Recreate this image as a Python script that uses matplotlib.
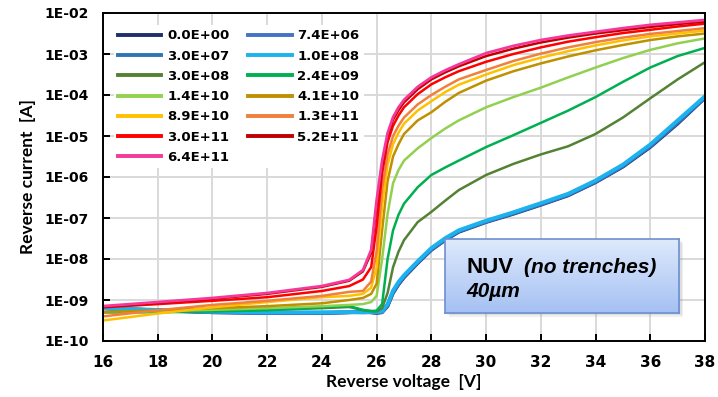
import matplotlib
matplotlib.use("Agg")
import matplotlib.pyplot as plt
import numpy as np
from matplotlib.ticker import FixedLocator, FixedFormatter, NullLocator
from matplotlib.colors import LinearSegmentedColormap
from matplotlib.patches import Rectangle

# Reverse voltage grid [V]
voltage = [16, 18, 20, 22, 24, 25, 25.5, 25.8, 26.0, 26.2, 26.4, 26.6, 26.8, 27, 27.5, 28, 28.5,
           29, 30, 31, 32, 33, 34, 35, 36, 37, 38]

# Reverse current [A] per fluence
i_0p0e00 = [6.31e-10, 5.62e-10, 5.01e-10, 4.79e-10, 4.79e-10, 5.01e-10, 5.25e-10, 5.01e-10, 4.79e-10, 5.01e-10,
            7.08e-10, 1.48e-9, 2.4e-9, 3.55e-9, 7.94e-9, 1.66e-8, 2.88e-8, 4.57e-8, 7.94e-8, 1.26e-7, 2.09e-7, 3.55e-7,
            7.41e-7, 1.78e-6, 5.37e-6, 2.0e-5, 8.51e-5]
i_7p4e06 = [6.2e-10, 5.5e-10, 5.0e-10, 4.8e-10, 4.8e-10, 5.0e-10, 5.1e-10, 5.0e-10, 4.9e-10, 5.1e-10,
            7.4e-10, 1.55e-9, 2.5e-9, 3.7e-9, 8.2e-9, 1.7e-8, 2.95e-8, 4.7e-8, 8.1e-8, 1.3e-7, 2.15e-7, 3.65e-7,
            7.6e-7, 1.85e-6, 5.6e-6, 2.1e-5, 8.7e-5]
i_3p0e07 = [6.3e-10, 5.6e-10, 5.1e-10, 4.9e-10, 4.9e-10, 5.0e-10, 5.0e-10, 5.0e-10, 5.0e-10, 5.2e-10,
            7.6e-10, 1.6e-9, 2.6e-9, 3.8e-9, 8.4e-9, 1.75e-8, 3.05e-8, 4.8e-8, 8.3e-8, 1.32e-7, 2.2e-7, 3.75e-7,
            7.8e-7, 1.9e-6, 5.8e-6, 2.2e-5, 8.9e-5]
i_1p0e08 = [6.4e-10, 5.7e-10, 5.2e-10, 5.0e-10, 5.0e-10, 5.1e-10, 5.0e-10, 5.1e-10, 5.1e-10, 5.3e-10,
            7.9e-10, 1.7e-9, 2.75e-9, 4.0e-9, 8.8e-9, 1.85e-8, 3.2e-8, 5.0e-8, 8.6e-8, 1.38e-7, 2.3e-7, 3.9e-7,
            8.2e-7, 2.0e-6, 6.2e-6, 2.4e-5, 9.3e-5]
i_3p0e08 = [5.01e-10, 5.25e-10, 5.5e-10, 5.75e-10, 6.31e-10, 6.76e-10, 5.62e-10, 5.37e-10, 5.25e-10, 6.31e-10,
            1.48e-9, 6.31e-9, 1.51e-8, 2.88e-8, 7.94e-8, 1.41e-7, 2.63e-7, 4.79e-7, 1.12e-6, 2.09e-6, 3.55e-6, 5.62e-6,
            1.12e-5, 2.82e-5, 8.32e-5, 2.4e-4, 6.31e-4]
i_2p4e09 = [5.01e-10, 5.01e-10, 5.25e-10, 5.62e-10, 6.61e-10, 7.08e-10, 5.75e-10, 5.37e-10, 5.5e-10, 7.94e-10,
            1.0e-8, 5.01e-8, 1.2e-7, 2.24e-7, 5.62e-7, 1.12e-6, 1.7e-6, 2.51e-6, 5.37e-6, 1.05e-5, 2.09e-5, 4.17e-5,
            8.91e-5, 2.09e-4, 4.68e-4, 8.91e-4, 1.41e-3]
i_1p4e10 = [5.01e-10, 5.37e-10, 5.75e-10, 6.31e-10, 7.08e-10, 7.59e-10, 7.94e-10, 8.91e-10, 1.26e-9, 1.0e-8,
            1.26e-7, 7.08e-7, 1.48e-6, 2.51e-6, 5.01e-6, 8.91e-6, 1.51e-5, 2.4e-5, 5.01e-5, 8.91e-5, 1.51e-4, 2.69e-4,
            4.68e-4, 7.94e-4, 1.26e-3, 1.82e-3, 2.4e-3]
i_4p1e10 = [5.01e-10, 5.62e-10, 6.31e-10, 7.08e-10, 8.32e-10, 1.0e-9, 1.12e-9, 1.41e-9, 2.51e-9, 5.01e-8,
            7.94e-7, 3.16e-6, 6.31e-6, 1.12e-5, 2.4e-5, 3.8e-5, 6.76e-5, 1.12e-4, 2.24e-4, 3.8e-4, 5.89e-4, 8.71e-4,
            1.23e-3, 1.66e-3, 2.19e-3, 2.69e-3, 3.16e-3]
i_8p9e10 = [3.16e-10, 4.68e-10, 6.61e-10, 8.91e-10, 1.17e-9, 1.26e-9, 1.41e-9, 2.0e-9, 6.31e-9, 2.0e-7,
            2.0e-6, 6.31e-6, 1.2e-5, 2.0e-5, 4.17e-5, 7.08e-5, 1.17e-4, 1.78e-4, 3.16e-4, 5.37e-4, 8.13e-4, 1.17e-3,
            1.62e-3, 2.14e-3, 2.69e-3, 3.16e-3, 3.72e-3]
i_1p3e11 = [3.98e-10, 5.62e-10, 7.59e-10, 9.55e-10, 1.26e-9, 1.58e-9, 1.66e-9, 2.82e-9, 1.58e-8, 5.01e-7,
            3.55e-6, 1.0e-5, 1.78e-5, 2.82e-5, 5.89e-5, 1.0e-4, 1.58e-4, 2.4e-4, 4.07e-4, 6.76e-4, 1.02e-3, 1.45e-3,
            1.95e-3, 2.51e-3, 3.09e-3, 3.63e-3, 4.27e-3]
i_3p0e11 = [6.61e-10, 7.94e-10, 9.55e-10, 1.17e-9, 1.66e-9, 2.19e-9, 3.16e-9, 6.31e-9, 6.31e-8, 1.26e-6,
            7.08e-6, 1.78e-5, 3.16e-5, 5.01e-5, 1.05e-4, 1.82e-4, 2.69e-4, 3.8e-4, 6.46e-4, 1.0e-3, 1.45e-3, 2.0e-3,
            2.57e-3, 3.24e-3, 3.89e-3, 4.68e-3, 5.5e-3]
i_5p2e11 = [6.76e-10, 8.51e-10, 1.07e-9, 1.41e-9, 2.09e-9, 2.95e-9, 5.0e-9, 1.41e-8, 2.0e-7, 2.0e-6,
            1.0e-5, 2.51e-5, 4.27e-5, 6.61e-5, 1.38e-4, 2.4e-4, 3.55e-4, 5.0e-4, 8.91e-4, 1.35e-3, 1.91e-3, 2.51e-3,
            3.16e-3, 3.8e-3, 4.57e-3, 5.37e-3, 6.17e-3]
i_6p4e11 = [7.1e-10, 8.9e-10, 1.12e-9, 1.48e-9, 2.19e-9, 3.09e-9, 5.37e-9, 1.66e-8, 2.75e-7, 2.5e-6,
            1.17e-5, 2.88e-5, 5.0e-5, 7.6e-5, 1.58e-4, 2.69e-4, 3.98e-4, 5.6e-4, 1.05e-3, 1.58e-3, 2.19e-3, 2.82e-3,
            3.47e-3, 4.27e-3, 5.13e-3, 5.89e-3, 6.76e-3]

labels = ["0.0E+00", "7.4E+06", "3.0E+07", "1.0E+08", "3.0E+08", "2.4E+09", "1.4E+10",
          "4.1E+10", "8.9E+10", "1.3E+11", "3.0E+11", "5.2E+11", "6.4E+11"]
series = [i_0p0e00, i_7p4e06, i_3p0e07, i_1p0e08, i_3p0e08, i_2p4e09, i_1p4e10,
          i_4p1e10, i_8p9e10, i_1p3e11, i_3p0e11, i_5p2e11, i_6p4e11]
colors = ["#1f2f6e", "#4472c4", "#2e75b6", "#1cb2ef", "#548235", "#00b050", "#92d050",
          "#bf9000", "#ffc000", "#f0803c", "#ff0000", "#c00000", "#f4399a"]
widths = [2.6, 2.6, 2.6, 2.8, 1.8, 1.8, 1.8, 1.8, 1.8, 1.8, 1.8, 1.8, 2.0]

x_ticks = [16, 18, 20, 22, 24, 26, 28, 30, 32, 34, 36, 38]
y_ticks = [1e-10, 1e-9, 1e-8, 1e-7, 1e-6, 1e-5, 1e-4, 1e-3, 1e-2]
y_tick_labels = ["1E-10", "1E-09", "1E-08", "1E-07", "1E-06", "1E-05", "1E-04", "1E-03", "1E-02"]

fig = plt.figure(figsize=(7.18, 3.97), dpi=100)
ax = fig.add_axes([103/718, 1 - 341/397, 602/718, 328/397])

handles = {}
for lab, ys, c, w in zip(labels, series, colors, widths):
    h, = ax.plot(voltage, ys, color=c, lw=w, label=lab, solid_joinstyle="round")
    handles[lab] = h

ax.set_yscale("log")
ax.set_xlim(16, 38)
ax.set_ylim(1e-10, 1e-2)
ax.xaxis.set_major_locator(FixedLocator(x_ticks))
ax.set_xticklabels([str(t) for t in x_ticks])
ax.yaxis.set_major_locator(FixedLocator(y_ticks))
ax.yaxis.set_major_formatter(FixedFormatter(y_tick_labels))
ax.yaxis.set_minor_locator(NullLocator())
ax.grid(True, which="major", color="#d9d9d9", lw=1.4)
ax.set_axisbelow(True)
for s in ax.spines.values():
    s.set_linewidth(1.4)
    s.set_color("black")
ax.tick_params(axis="both", direction="in", length=5, width=1.4)
ax.tick_params(axis="x", pad=10, labelsize=11)
ax.tick_params(axis="y", pad=10, labelsize=10)
for t in ax.get_xticklabels() + ax.get_yticklabels():
    t.set_fontweight("bold")

ax.set_xlabel("Reverse voltage  [V]", fontsize=12.5, family="Lato", fontweight="bold", labelpad=3)
ax.set_ylabel("Reverse current  [A]", fontsize=12.5, family="Lato", fontweight="bold", labelpad=6)

col1 = ["0.0E+00", "3.0E+07", "3.0E+08", "1.4E+10", "8.9E+10", "3.0E+11", "6.4E+11"]
col2 = ["7.4E+06", "1.0E+08", "2.4E+09", "4.1E+10", "1.3E+11", "5.2E+11"]
order = col1 + col2
leg = ax.legend([handles[l] for l in order], order, ncol=2, loc="upper left",
                bbox_to_anchor=(0.018, 0.962), borderaxespad=0, frameon=True,
                prop={"weight": "bold", "size": 9.5}, handlelength=3.3, handletextpad=0.45,
                columnspacing=1.4, labelspacing=0.55, borderpad=0.3)
leg.get_frame().set_edgecolor("none")
leg.get_frame().set_facecolor("white")
leg.get_frame().set_alpha(1)
for line in leg.get_lines():
    line.set_linewidth(2.8)

# annotation box with gradient and soft shadow
bx0, by0, bw, bh = 0.568, 0.085, 0.389, 0.226
for k, a in zip([0.006, 0.004, 0.002], [0.12, 0.15, 0.2]):
    ax.add_patch(Rectangle((bx0 + k, by0 - k * 1.8), bw, bh, transform=ax.transAxes,
                           facecolor="#808080", edgecolor="none", alpha=a, zorder=4.5))
box = ax.inset_axes([bx0, by0, bw, bh])
grad = np.linspace(0, 1, 100).reshape(-1, 1)
cmap = LinearSegmentedColormap.from_list("bx", ["#dfeafc", "#a5c1f3"])
box.imshow(grad, aspect="auto", cmap=cmap, extent=[0, 1, 0, 1], origin="upper")
box.set_xlim(0, 1)
box.set_ylim(0, 1)
box.set_xticks([])
box.set_yticks([])
for s in box.spines.values():
    s.set_color("#6d8fcf")
    s.set_linewidth(1.2)
box.text(0.09, 0.54, "NUV", fontsize=16, fontweight="bold", family="Liberation Sans",
         transform=box.transAxes, va="baseline")
box.text(0.338, 0.54, "(no trenches)", fontsize=15, fontweight="bold", style="italic",
         family="Liberation Sans", transform=box.transAxes, va="baseline")
box.text(0.09, 0.216, "40µm", fontsize=15, fontweight="bold", style="italic",
         family="Liberation Sans", transform=box.transAxes, va="baseline")

fig.savefig("out.png", dpi=100)
